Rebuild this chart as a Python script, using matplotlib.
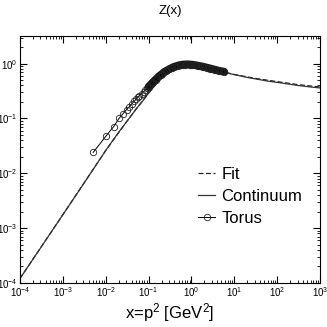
import matplotlib
matplotlib.use("Agg")
import matplotlib.pyplot as plt
from matplotlib.ticker import LogLocator, NullFormatter

plt.rcParams['font.family'] = ['Liberation Sans', 'DejaVu Sans']
plt.rcParams['mathtext.fontset'] = 'custom'
plt.rcParams['mathtext.rm'] = 'Liberation Sans'
plt.rcParams['mathtext.it'] = 'Liberation Sans'

title = "Z(x)"
xlabel = r"x=p$^2$ [GeV$^2$]"

# Continuum curve
cont_x = [1e-4, 3e-4, 1e-3, 3e-3, 1e-2, 2e-2, 3e-2, 5e-2, 0.07, 0.1, 0.15, 0.2, 0.3,
          0.4, 0.5, 0.65, 0.8, 1.0, 1.4, 2.0, 3.0, 4.0, 6.0, 10, 20, 30, 60, 100,
          200, 300, 600, 1000]
cont_y = [1.2e-4, 4.3e-4, 1.75e-3, 6.3e-3, 2.6e-2, 5.6e-2, 8.5e-2, 0.145, 0.2, 0.29,
          0.43, 0.56, 0.74, 0.84, 0.9, 0.94, 0.955, 0.95, 0.92, 0.87, 0.8, 0.75,
          0.69, 0.63, 0.56, 0.53, 0.48, 0.455, 0.42, 0.40, 0.375, 0.36]

# Fit curve (dashed), nearly on top of continuum, slightly above at large x
fit_x = [1e-4, 1e-3, 1e-2, 3e-2, 5e-2, 0.1, 0.2, 0.3, 0.5, 0.8, 1.0, 2.0, 4.0,
         10, 30, 100, 300, 1000]
fit_y = [1.2e-4, 1.75e-3, 2.6e-2, 8.5e-2, 0.145, 0.29, 0.56, 0.74, 0.9, 0.955,
         0.95, 0.87, 0.75, 0.635, 0.54, 0.47, 0.415, 0.375]

# Torus lattice data
torus_x = [0.0051, 0.0102, 0.0153, 0.0204, 0.0255, 0.0306, 0.0357, 0.0408, 0.0459,
           0.051, 0.0561, 0.0612, 0.07, 0.077, 0.084, 0.092, 0.10, 0.11, 0.12,
           0.13, 0.145, 0.16, 0.175, 0.19, 0.21, 0.23, 0.25, 0.275, 0.3, 0.33,
           0.36, 0.4, 0.44, 0.48, 0.53, 0.58, 0.63, 0.69, 0.76, 0.83, 0.91, 1.0,
           1.1, 1.2, 1.3, 1.45, 1.6, 1.75, 1.9, 2.1, 2.3, 2.5, 2.75, 3.0, 3.3,
           3.6, 4.0, 4.4, 4.8, 5.3, 5.8]
torus_y = [0.024, 0.048, 0.071, 0.10, 0.123, 0.145, 0.165, 0.185, 0.205, 0.225,
           0.245, 0.262, 0.285, 0.31, 0.33, 0.355, 0.38, 0.41, 0.44, 0.47, 0.51,
           0.55, 0.59, 0.62, 0.66, 0.70, 0.73, 0.76, 0.79, 0.82, 0.85, 0.88,
           0.90, 0.92, 0.94, 0.95, 0.96, 0.965, 0.97, 0.97, 0.965, 0.96, 0.95,
           0.94, 0.93, 0.915, 0.90, 0.89, 0.875, 0.86, 0.845, 0.83, 0.815, 0.80,
           0.785, 0.77, 0.755, 0.74, 0.73, 0.72, 0.71]

# where the lattice points become so dense that they merge into a solid band
dense_start = 16

fig = plt.figure(figsize=(3.27, 3.27), dpi=100)
ax = fig.add_axes([0.061, 0.135, 0.918, 0.755])

ax.plot(fit_x, fit_y, ls=(0, (4, 2)), color='#222222', lw=0.9, label='Fit')
ax.plot(cont_x, cont_y, ls='-', color='#333333', lw=0.9, label='Continuum')
# dense overlapping markers render as a solid band
ax.plot(torus_x[dense_start:], torus_y[dense_start:], ls='-', color='#111111',
        lw=5.6, solid_capstyle='round', solid_joinstyle='round')
ax.plot(torus_x, torus_y, ls='-', color='black', lw=0.7, marker='o', ms=4.6,
        mfc='none', mec='#222222', mew=0.6, label='Torus')

ax.set_xscale('log')
ax.set_yscale('log')
ax.set_xlim(1e-4, 1e3)
ax.set_ylim(1e-4, 3.2)

ax.xaxis.set_major_locator(LogLocator(base=10, numticks=20))
ax.yaxis.set_major_locator(LogLocator(base=10, numticks=20))
ax.xaxis.set_minor_locator(LogLocator(base=10, subs=range(2, 10), numticks=20))
ax.yaxis.set_minor_locator(LogLocator(base=10, subs=range(2, 10), numticks=20))
ax.xaxis.set_minor_formatter(NullFormatter())
ax.yaxis.set_minor_formatter(NullFormatter())

ax.tick_params(which='both', direction='in', top=True, right=True, labelsize=7, pad=2)
ax.tick_params(which='major', length=5, width=0.8)
ax.tick_params(which='minor', length=2.5, width=0.6)
for s in ax.spines.values():
    s.set_linewidth(0.8)

ax.set_title(title, fontsize=9.5, pad=16)
ax.set_xlabel(xlabel, fontsize=12, labelpad=1)

leg = ax.legend(loc='lower right', bbox_to_anchor=(0.98, 0.185), frameon=False,
                fontsize=12, handlelength=1.0, handletextpad=0.4,
                labelspacing=0.42, borderpad=0.2)

fig.savefig('out.png', dpi=100)
